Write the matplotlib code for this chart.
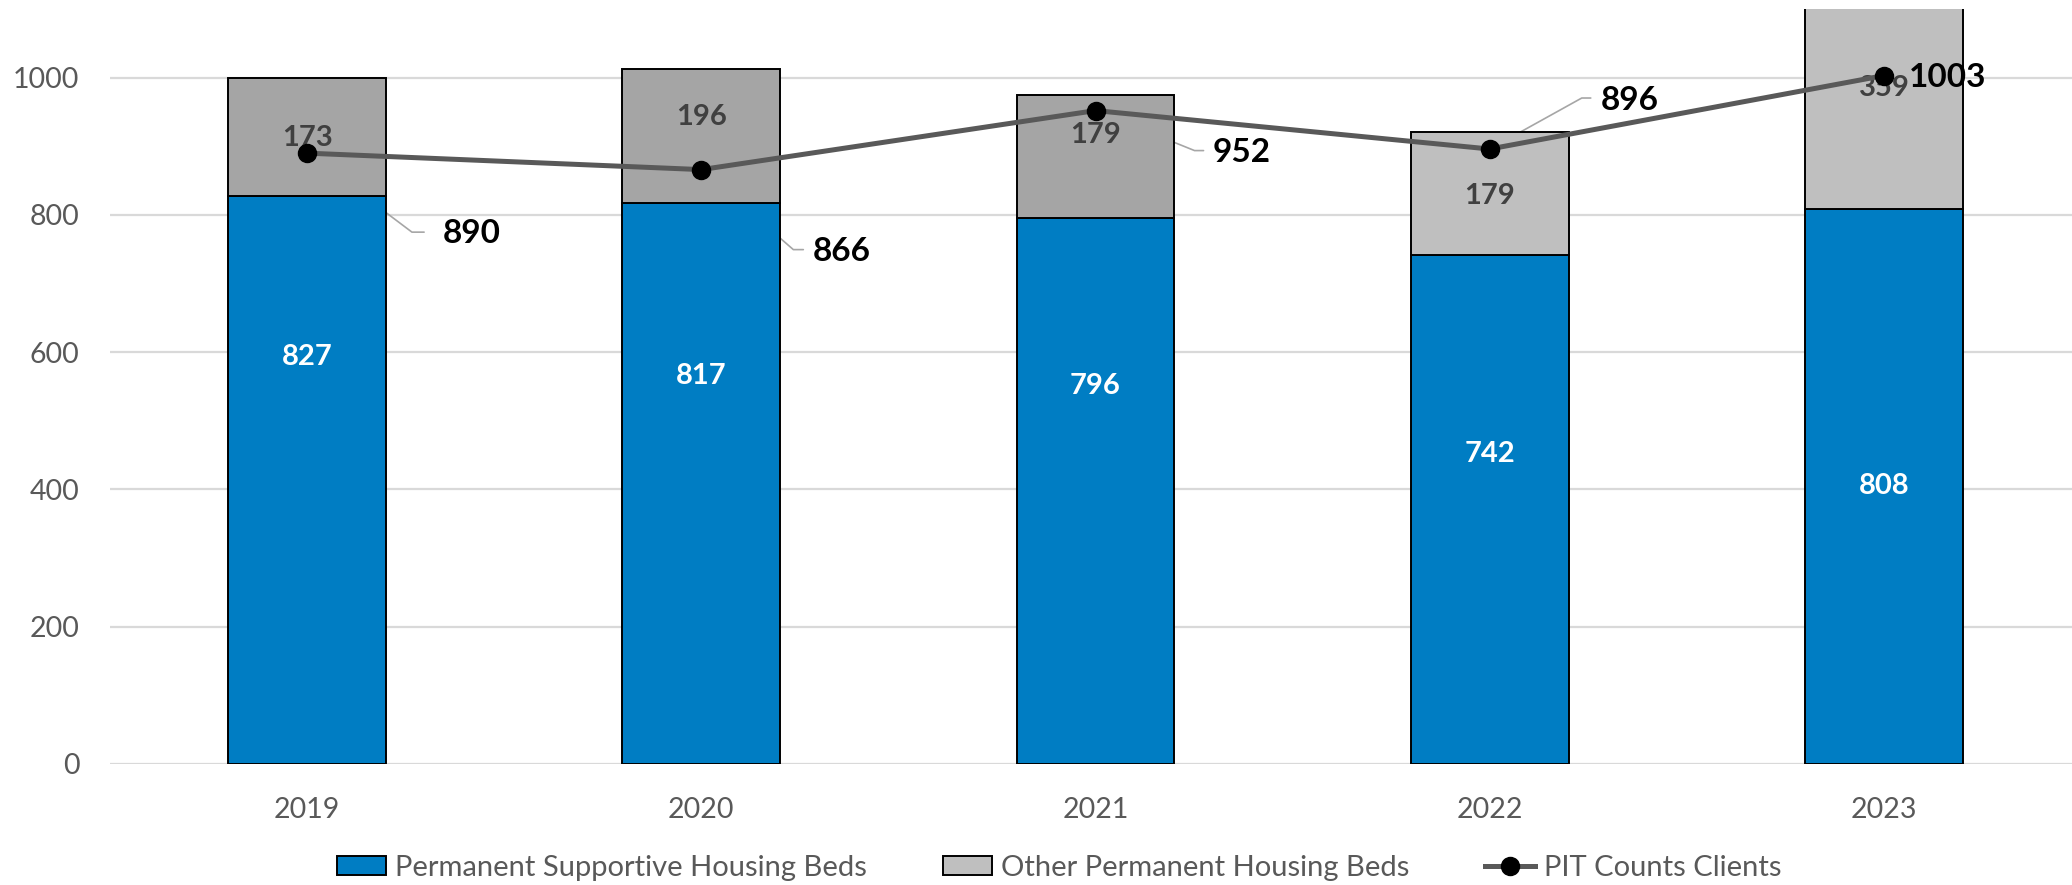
import numpy as np
import matplotlib.pyplot as plt
from matplotlib.patches import Patch
from matplotlib.lines import Line2D

# data
years = ['2019', '2020', '2021', '2022', '2023']
psh_beds = [827, 817, 796, 742, 808]
other_beds = [173, 196, 179, 179, 359]
pit_clients = [890, 866, 952, 896, 1003]

# label placement (data units for bar labels, pixel offsets for PIT labels)
psh_label_y = [593, 566, 551, 451, 405]
other_label_y = [912, 943, 917, 828, 985]
pit_label_off = [(136, -80), (111, -82), (117, -42), (111, 49), (25, -2)]
pit_leader = [((117, -79), -37), ((102, -80), -41), ((108, -40), -22), ((101, 51), 29), None]

blue = '#007DC3'
other_colors = ['#A5A5A5', '#A5A5A5', '#A5A5A5', '#BFBFBF', '#BFBFBF']

plt.rcParams['font.family'] = ['Lato', 'DejaVu Sans']

fig = plt.figure(figsize=(20.72, 8.85), dpi=100)
ax = fig.add_axes([110/2072, 121/885, (2072-110)/2072, 755/885])

x = np.arange(len(years))
ax.bar(x, psh_beds, width=0.4, color=blue, edgecolor='black', linewidth=1.4, zorder=2)
ax.bar(x, other_beds, bottom=psh_beds, width=0.4, color=other_colors,
       edgecolor='black', linewidth=1.4, zorder=2)
ax.plot(x, pit_clients, color='#595959', lw=3.6, marker='o', ms=13,
        mfc='black', mec='black', zorder=4)

# bar labels
for i in range(len(years)):
    ax.text(x[i], psh_label_y[i], str(psh_beds[i]), ha='center', va='center',
            color='white', fontsize=21, fontweight='bold', zorder=5)
    ax.text(x[i], other_label_y[i], str(other_beds[i]), ha='center', va='center',
            color='#404040', fontsize=21, fontweight='bold', zorder=3)

# PIT labels with leader lines
for i in range(len(years)):
    ax.annotate(str(pit_clients[i]), xy=(x[i], pit_clients[i]), xytext=pit_label_off[i],
                textcoords='offset pixels', ha='left', va='center',
                fontsize=24, fontweight='bold', color='black', zorder=6)
    if pit_leader[i] is not None:
        off, ang = pit_leader[i]
        ax.annotate('', xy=(x[i], pit_clients[i]), xytext=off, textcoords='offset pixels',
                    arrowprops=dict(arrowstyle='-', color='#A6A6A6', lw=1.2,
                                    shrinkA=0, shrinkB=0,
                                    connectionstyle=f'angle,angleA=0,angleB={ang},rad=0'),
                    zorder=1.5)

ax.set_ylim(0, 1100)
ax.set_xlim(-0.5, 4.477)
ax.set_yticks([0, 200, 400, 600, 800, 1000])
ax.set_xticks(x, years)
ax.tick_params(axis='both', length=0, labelsize=20.5, labelcolor='#595959')
ax.tick_params(axis='x', pad=24)
ax.tick_params(axis='y', pad=22)
ax.grid(axis='y', color='#D9D9D9', lw=1.6)
ax.set_axisbelow(True)
for s in ax.spines.values():
    s.set_visible(False)

handles = [Patch(facecolor=blue, edgecolor='black', lw=1.4),
           Patch(facecolor='#BFBFBF', edgecolor='black', lw=1.4),
           Line2D([], [], color='#595959', lw=3.6, marker='o', ms=13, mfc='black', mec='black')]
labels = ['Permanent Supportive Housing Beds', 'Other Permanent Housing Beds', 'PIT Counts Clients']
fig.legend(handles, labels, loc='center', bbox_to_anchor=(1059/2072, 1 - 868/885), ncol=3,
           frameon=False, fontsize=21, labelcolor='#595959', handlelength=1.7,
           handleheight=0.6, handletextpad=0.3, columnspacing=2.6)

fig.savefig('out.png', dpi=100)
